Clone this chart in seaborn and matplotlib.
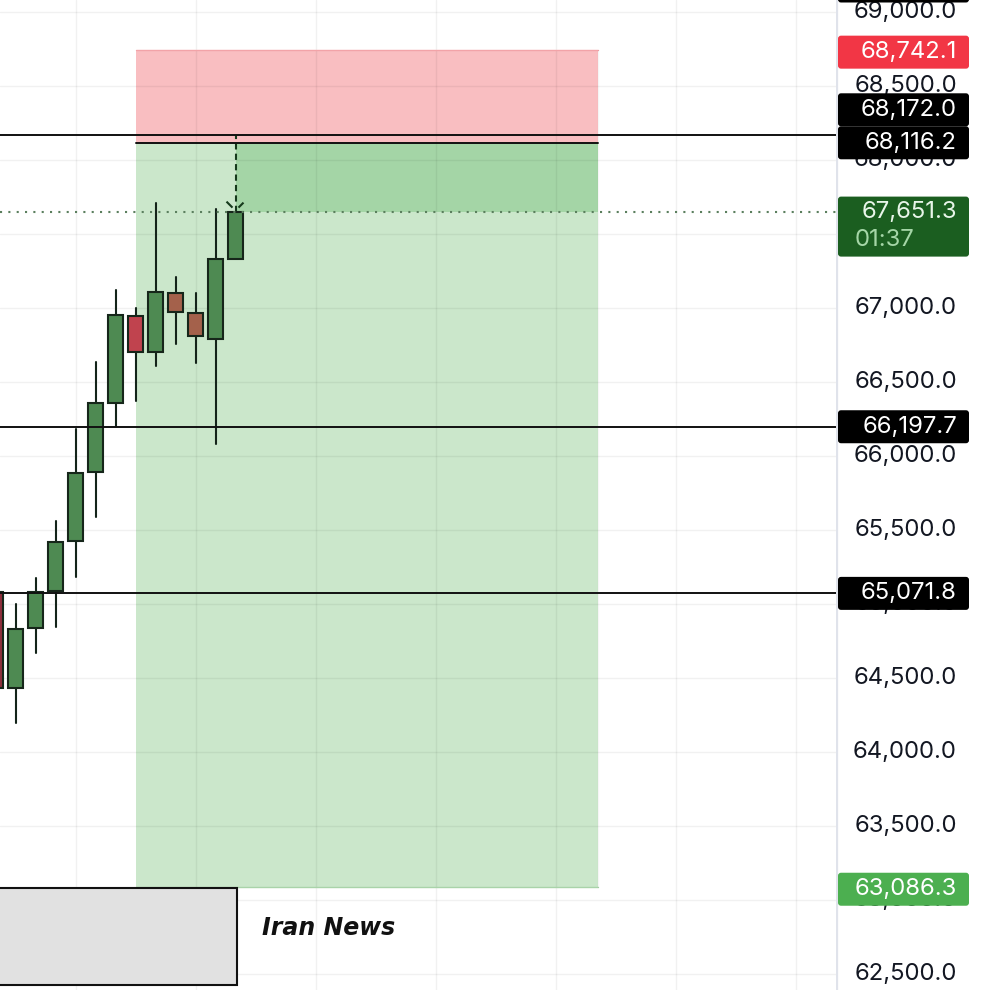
import matplotlib
matplotlib.use("Agg")
import matplotlib.pyplot as plt
from matplotlib.patches import Rectangle, FancyBboxPatch
import seaborn as sns
import pandas as pd

# ---------------- data ----------------
bar_index = [-1, 0, 1, 2, 3, 4, 5, 6, 7, 8, 9, 10, 11]
opens  = [65083, 64432, 64835, 65088, 65426, 65894, 66360, 66948, 66701, 67103, 66968, 66788, 67329]
closes = [64434, 64833, 65083, 65421, 65887, 66358, 66953, 66701, 67110, 66971, 66811, 67329, 67651.3]
highs  = [65150, 65000, 65176, 65561, 66182, 66637, 67122, 67002, 67709, 67211, 67099, 67667, 68172.0]
lows   = [64300, 64196, 64671, 64847, 65184, 65590, 66205, 66374, 66610, 66755, 66630, 66079, 67329]
body_colors = ['#8e2f3c', '#4e8a52', '#4e8a52', '#4e8a52', '#4e8a52', '#4e8a52', '#4e8a52',
               '#c0434e', '#4e8a52', '#a4614b', '#a4614b', '#4e8a52', '#4e8a52']

stop_price = 68742.1
entry_price = 68116.2
target_price = 63086.3
zone_start_bar = 6
zone_end_bar = 29.1
current_price = 67651.3
countdown = "01:37"
level_lines = [68172.0, 66197.7, 65071.8]
tick_values = [62500, 63000, 63500, 64000, 64500, 65000, 65500, 66000,
               66500, 67000, 67500, 68000, 68500, 69000]
tick_labels = ["62,500.0", "63,000.0", "63,500.0", "64,000.0", "64,500.0", "65,000.0",
               "65,500.0", "66,000.0", "66,500.0", "67,000.0", "67,500.0", "68,000.0",
               "68,500.0", "69,000.0"]
grid_bars = [3, 9, 15, 21, 27, 33, 39]
note_text = "Iran News"

df = pd.DataFrame({"bar": bar_index, "open": opens, "close": closes,
                   "high": highs, "low": lows, "color": body_colors})

# ---------------- figure ----------------
sns.set_theme(style="white")
plt.rcParams['font.family'] = ['Inter', 'DejaVu Sans']

W, H = 994, 990
fig = plt.figure(figsize=(W / 100, H / 100), dpi=100)
fig.patch.set_facecolor("white")
plot_w = 836
ax = fig.add_axes([0, 0, plot_w / W, 1])
YMIN, YMAX = 62392, 69081
XMIN, XMAX = -0.775, 41.025
ax.set_xlim(XMIN, XMAX)
ax.set_ylim(YMIN, YMAX)
ax.axis("off")
ppp = (YMAX - YMIN) / H          # price per pixel
bpp = (XMAX - XMIN) / plot_w     # bars per pixel

# grid
for t in tick_values:
    ax.axhline(t, color=(0, 0, 0, 0.055), lw=1.0, zorder=2)
for g in grid_bars:
    ax.axvline(g, color=(0, 0, 0, 0.055), lw=1.0, zorder=2)

# position zones
ax.add_patch(Rectangle((zone_start_bar, entry_price), zone_end_bar - zone_start_bar,
                       stop_price - entry_price, facecolor="#f9bec1", edgecolor="none", zorder=1))
ax.add_patch(Rectangle((zone_start_bar, target_price), zone_end_bar - zone_start_bar,
                       entry_price - target_price, facecolor="#cbe7cb", edgecolor="none", zorder=1))
ax.add_patch(Rectangle((bar_index[-1], current_price), zone_end_bar - bar_index[-1],
                       entry_price - current_price, facecolor="#a4d5a6", edgecolor="none", zorder=1))
ax.plot([zone_start_bar, zone_end_bar], [stop_price, stop_price], color="#f2a3a8", lw=1, zorder=2)
ax.plot([zone_start_bar, zone_end_bar], [target_price, target_price], color="#a9d3a9", lw=1, zorder=2)
ax.plot([zone_end_bar, zone_end_bar], [target_price, stop_price], color=(0, 0, 0, 0.04), lw=1, zorder=2)
ax.plot([zone_start_bar, zone_end_bar], [entry_price, entry_price], color="#111111", lw=1.4, zorder=6)

# candles
last = len(df) - 1
for i, r in df.iterrows():
    top = max(r.open, r.close)
    bot = min(r.open, r.close)
    if i == last:
        ax.plot([r.bar, r.bar], [top, r.high], color="#163a1c", lw=1.5,
                ls=(0, (3, 2)), zorder=4)
    else:
        ax.plot([r.bar, r.bar], [r.low, r.high], color="#14241a", lw=1.5, zorder=4)
    ax.bar(r.bar, top - bot, bottom=bot, width=0.75, color=r.color,
           edgecolor="#16261a", linewidth=1.5, zorder=5)

# sparkle marks above the live candle
lb, lt = bar_index[-1], current_price
for (dx0, dy0, dx1, dy1) in [(-9, 10, -3, 4), (3, 4, 8, 9)]:
    ax.plot([lb + dx0 * bpp, lb + dx1 * bpp], [lt + dy0 * ppp, lt + dy1 * ppp],
            color="#163a1c", lw=1.5, zorder=6, solid_capstyle="butt")

# horizontal level lines
for lv in level_lines:
    ax.axhline(lv, color="#111111", lw=1.4, zorder=6)

# current price dotted line
ax.axhline(current_price, color="#5b7f5e", lw=1.5, ls=(0, (1, 3)), zorder=6)

# note box + text
note_top = target_price - 1 * ppp
note_bot = YMIN + 5 * ppp
ax.add_patch(Rectangle((XMIN - 1, note_bot), bar_index[-1] + 1 * bpp - XMIN + 1,
                       note_top - note_bot, facecolor="#e1e1e1", edgecolor="#111111",
                       lw=1.5, zorder=7))
ax.text(bar_index[-1] + 26 * bpp, note_top - 40 * ppp, note_text,
        fontsize=17, fontweight="bold", fontstyle="italic", color="#111111",
        family=["DejaVu Sans"], va="center", ha="left", zorder=8)

# ---------------- price scale ----------------
sax = fig.add_axes([plot_w / W, 0, (W - plot_w) / W, 1])
sax.set_xlim(0, W - plot_w)
sax.set_ylim(YMIN, YMAX)
sax.axis("off")
sax.axvline(0.8, color="#e0e3eb", lw=1.6)

TXT_R = 121
FS = 17.2
cur_h = 60 * ppp
cur_top = current_price + 15 * ppp
for v, lab in zip(tick_values, tick_labels):
    if cur_top - cur_h < v < cur_top:
        continue  # fully hidden behind the live price tag
    sax.text(TXT_R, v, lab, ha="right", va="center", fontsize=FS, color="#131722", zorder=2)

BOX_H = 33 * ppp
asp = ppp  # y units per x unit (pixel)

def label_box(yc, text, face, tcolor="white", h=BOX_H):
    sax.add_patch(FancyBboxPatch((2, yc - h / 2), 131, h,
                                 boxstyle="round,pad=0,rounding_size=3",
                                 mutation_aspect=asp, facecolor=face, edgecolor="none",
                                 zorder=5, clip_on=False))
    if text:
        sax.text(TXT_R, yc, text, ha="right", va="center", fontsize=FS,
                 color=tcolor, zorder=6)

label_box(YMAX + 14 * ppp, "", "#000000")
label_box(stop_price - 2 * ppp, f"{stop_price:,.1f}", "#f23645")
label_box(entry_price, f"{entry_price:,.1f}", "#000000")
label_box(entry_price + BOX_H, f"{level_lines[0]:,.1f}", "#000000")
label_box(level_lines[1], f"{level_lines[1]:,.1f}", "#000000")
label_box(level_lines[2], f"{level_lines[2]:,.1f}", "#000000")
label_box(target_price - 2 * ppp, f"{target_price:,.1f}", "#4caf50")

# current price box with countdown
sax.add_patch(FancyBboxPatch((2, cur_top - cur_h), 131, cur_h,
                             boxstyle="round,pad=0,rounding_size=3", mutation_aspect=asp,
                             facecolor="#1b5e20", edgecolor="none", zorder=5))
sax.text(TXT_R, current_price, f"{current_price:,.1f}", ha="right", va="center",
         fontsize=FS, color="#e8f5e9", zorder=6)
sax.text(19, current_price - 28 * ppp, countdown, ha="left", va="center",
         fontsize=FS, color="#a5d6a7", zorder=6)

fig.savefig("out.png", dpi=100, facecolor="white")
